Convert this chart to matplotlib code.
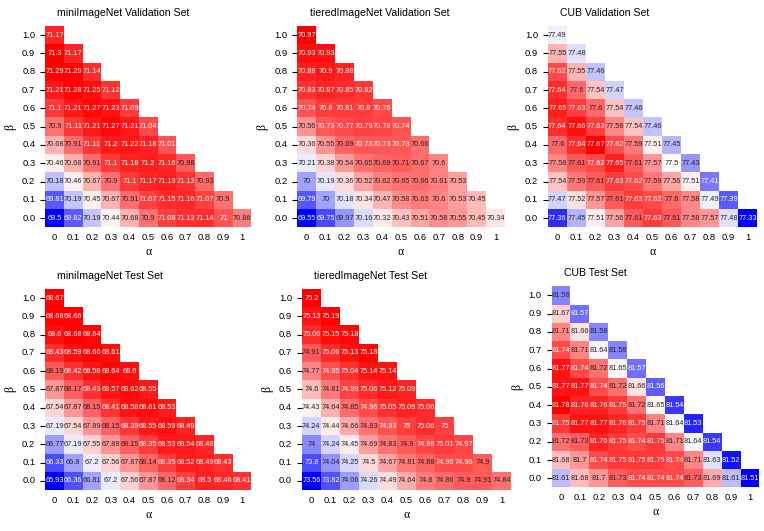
import numpy as np
import matplotlib
matplotlib.use("Agg")
import matplotlib.pyplot as plt
import seaborn as sns

plt.rcParams['font.family'] = ['Liberation Sans', 'DejaVu Sans']

# rows go from beta = 1.0 (top) down to beta = 0.0, columns alpha = 0 .. 1
mini_val = [
    [71.17],
    [71.3, 71.17],
    [71.29, 71.29, 71.14],
    [71.21, 71.28, 71.25, 71.12],
    [71.1, 71.21, 71.27, 71.23, 71.09],
    [70.9, 71.11, 71.21, 71.27, 71.21, 71.04],
    [70.68, 70.91, 71.11, 71.2, 71.22, 71.18, 71.01],
    [70.46, 70.68, 70.91, 71.1, 71.18, 71.2, 71.16, 70.98],
    [70.18, 70.46, 70.67, 70.9, 71.1, 71.17, 71.19, 71.13, 70.93],
    [69.81, 70.19, 70.45, 70.67, 70.91, 71.07, 71.15, 71.16, 71.07, 70.9],
    [69.5, 69.82, 70.19, 70.44, 70.68, 70.9, 71.08, 71.13, 71.14, 71, 70.86],
]
tiered_val = [
    [70.97],
    [70.93, 70.93],
    [70.88, 70.9, 70.88],
    [70.83, 70.87, 70.85, 70.82],
    [70.74, 70.8, 70.81, 70.8, 70.76],
    [70.56, 70.73, 70.77, 70.79, 70.78, 70.74],
    [70.36, 70.55, 70.69, 70.73, 70.73, 70.73, 70.66],
    [70.21, 70.38, 70.54, 70.65, 70.69, 70.71, 70.67, 70.6],
    [70, 70.19, 70.36, 70.52, 70.62, 70.65, 70.66, 70.61, 70.53],
    [69.79, 70, 70.18, 70.34, 70.47, 70.58, 70.63, 70.6, 70.53, 70.45],
    [69.55, 69.75, 69.97, 70.16, 70.32, 70.43, 70.51, 70.58, 70.55, 70.45, 70.34],
]
cub_val = [
    [77.49],
    [77.55, 77.48],
    [77.62, 77.55, 77.46],
    [77.64, 77.6, 77.54, 77.47],
    [77.65, 77.63, 77.6, 77.54, 77.46],
    [77.64, 77.66, 77.63, 77.58, 77.54, 77.46],
    [77.6, 77.64, 77.67, 77.62, 77.59, 77.51, 77.45],
    [77.58, 77.61, 77.62, 77.65, 77.61, 77.57, 77.5, 77.43],
    [77.54, 77.59, 77.61, 77.63, 77.62, 77.59, 77.56, 77.51, 77.41],
    [77.47, 77.52, 77.57, 77.61, 77.63, 77.62, 77.6, 77.58, 77.49, 77.39],
    [77.36, 77.45, 77.51, 77.56, 77.61, 77.63, 77.61, 77.58, 77.57, 77.48, 77.33],
]
mini_test = [
    [68.67],
    [68.68, 68.66],
    [68.6, 68.68, 68.64],
    [68.43, 68.59, 68.66, 68.61],
    [68.19, 68.42, 68.58, 68.64, 68.6],
    [67.87, 68.17, 68.43, 68.57, 68.62, 68.55],
    [67.54, 67.87, 68.15, 68.41, 68.58, 68.61, 68.53],
    [67.19, 67.54, 67.89, 68.15, 68.39, 68.55, 68.59, 68.49],
    [66.77, 67.19, 67.55, 67.88, 68.15, 68.35, 68.53, 68.54, 68.48],
    [66.33, 66.8, 67.2, 67.56, 67.87, 68.14, 68.35, 68.52, 68.49, 68.43],
    [65.93, 66.36, 66.81, 67.2, 67.56, 67.87, 68.12, 68.34, 68.5, 68.46, 68.41],
]
tiered_test = [
    [75.2],
    [75.13, 75.19],
    [75.06, 75.15, 75.18],
    [74.91, 75.06, 75.13, 75.18],
    [74.77, 74.95, 75.04, 75.14, 75.14],
    [74.6, 74.81, 74.99, 75.06, 75.12, 75.09],
    [74.43, 74.64, 74.85, 74.96, 75.05, 75.09, 75.06],
    [74.24, 74.44, 74.66, 74.83, 74.93, 75, 75.06, 75],
    [74, 74.24, 74.45, 74.69, 74.83, 74.9, 74.98, 75.01, 74.97],
    [73.8, 74.04, 74.25, 74.5, 74.67, 74.81, 74.88, 74.96, 74.96, 74.9],
    [73.56, 73.82, 74.06, 74.26, 74.49, 74.64, 74.8, 74.86, 74.9, 74.91, 74.84],
]
cub_test = [
    [81.58],
    [81.67, 81.57],
    [81.71, 81.66, 81.58],
    [81.74, 81.71, 81.64, 81.58],
    [81.77, 81.74, 81.72, 81.65, 81.57],
    [81.77, 81.77, 81.74, 81.72, 81.66, 81.56],
    [81.78, 81.76, 81.76, 81.75, 81.72, 81.65, 81.54],
    [81.75, 81.77, 81.77, 81.76, 81.75, 81.71, 81.64, 81.53],
    [81.72, 81.73, 81.76, 81.75, 81.74, 81.75, 81.71, 81.64, 81.54],
    [81.68, 81.7, 81.74, 81.75, 81.75, 81.75, 81.74, 81.71, 81.63, 81.52],
    [81.61, 81.68, 81.7, 81.73, 81.74, 81.74, 81.74, 81.73, 81.69, 81.61, 81.51],
]
alpha_labels = ["0", "0.1", "0.2", "0.3", "0.4", "0.5", "0.6", "0.7", "0.8", "0.9", "1"]
beta_labels = ["1.0", "0.9", "0.8", "0.7", "0.6", "0.5", "0.4", "0.3", "0.2", "0.1", "0.0"]

panels = [
    ("miniImageNet Validation Set", mini_val),
    ("tieredImageNet Validation Set", tiered_val),
    ("CUB Validation Set", cub_val),
    ("miniImageNet Test Set", mini_test),
    ("tieredImageNet Test Set", tiered_test),
    ("CUB Test Set", cub_test),
]

# axes boxes in figure fraction (left, bottom, width, height)
boxes = [
    (0.059, 0.572, 0.270, 0.379),
    (0.389, 0.572, 0.272, 0.379),
    (0.717, 0.572, 0.274, 0.379),
    (0.059, 0.077, 0.270, 0.379),
    (0.395, 0.077, 0.274, 0.379),
    (0.722, 0.082, 0.272, 0.379),
]

fig = plt.figure(figsize=(7.64, 5.31), dpi=100)

for (title, rows), box in zip(panels, boxes):
    n = len(rows)
    arr = np.full((n, n), np.nan)
    for i, r in enumerate(rows):
        arr[i, :len(r)] = r
    mask = np.isnan(arr)
    ax = fig.add_axes(box)
    sns.heatmap(arr, mask=mask, cmap="bwr", annot=False, cbar=False, ax=ax,
                xticklabels=alpha_labels, yticklabels=beta_labels)
    vmin, vmax = np.nanmin(arr), np.nanmax(arr)
    for i, r in enumerate(rows):
        for j, v in enumerate(r):
            t = (v - vmin) / (vmax - vmin)
            col = "white" if (t > 0.83 or t < 0.24) else "#262626"
            ax.text(j + 0.5, i + 0.5, "%g" % v, ha="center", va="center",
                    fontsize=5.3, color=col)
    ax.tick_params(axis="x", length=0, labelsize=6.8, rotation=0, pad=4)
    ax.tick_params(axis="y", length=3.5, width=0.8, labelsize=6.8, rotation=0)
    ax.set_xlabel("α", fontsize=8.5, family=["Liberation Serif", "DejaVu Serif"], labelpad=3)
    ax.set_ylabel("β", fontsize=8.5, family=["Liberation Serif", "DejaVu Serif"])
    ax.set_title(title, loc="left", x=0.06, fontsize=7.6, pad=7)

plt.savefig("out.png", dpi=100)
